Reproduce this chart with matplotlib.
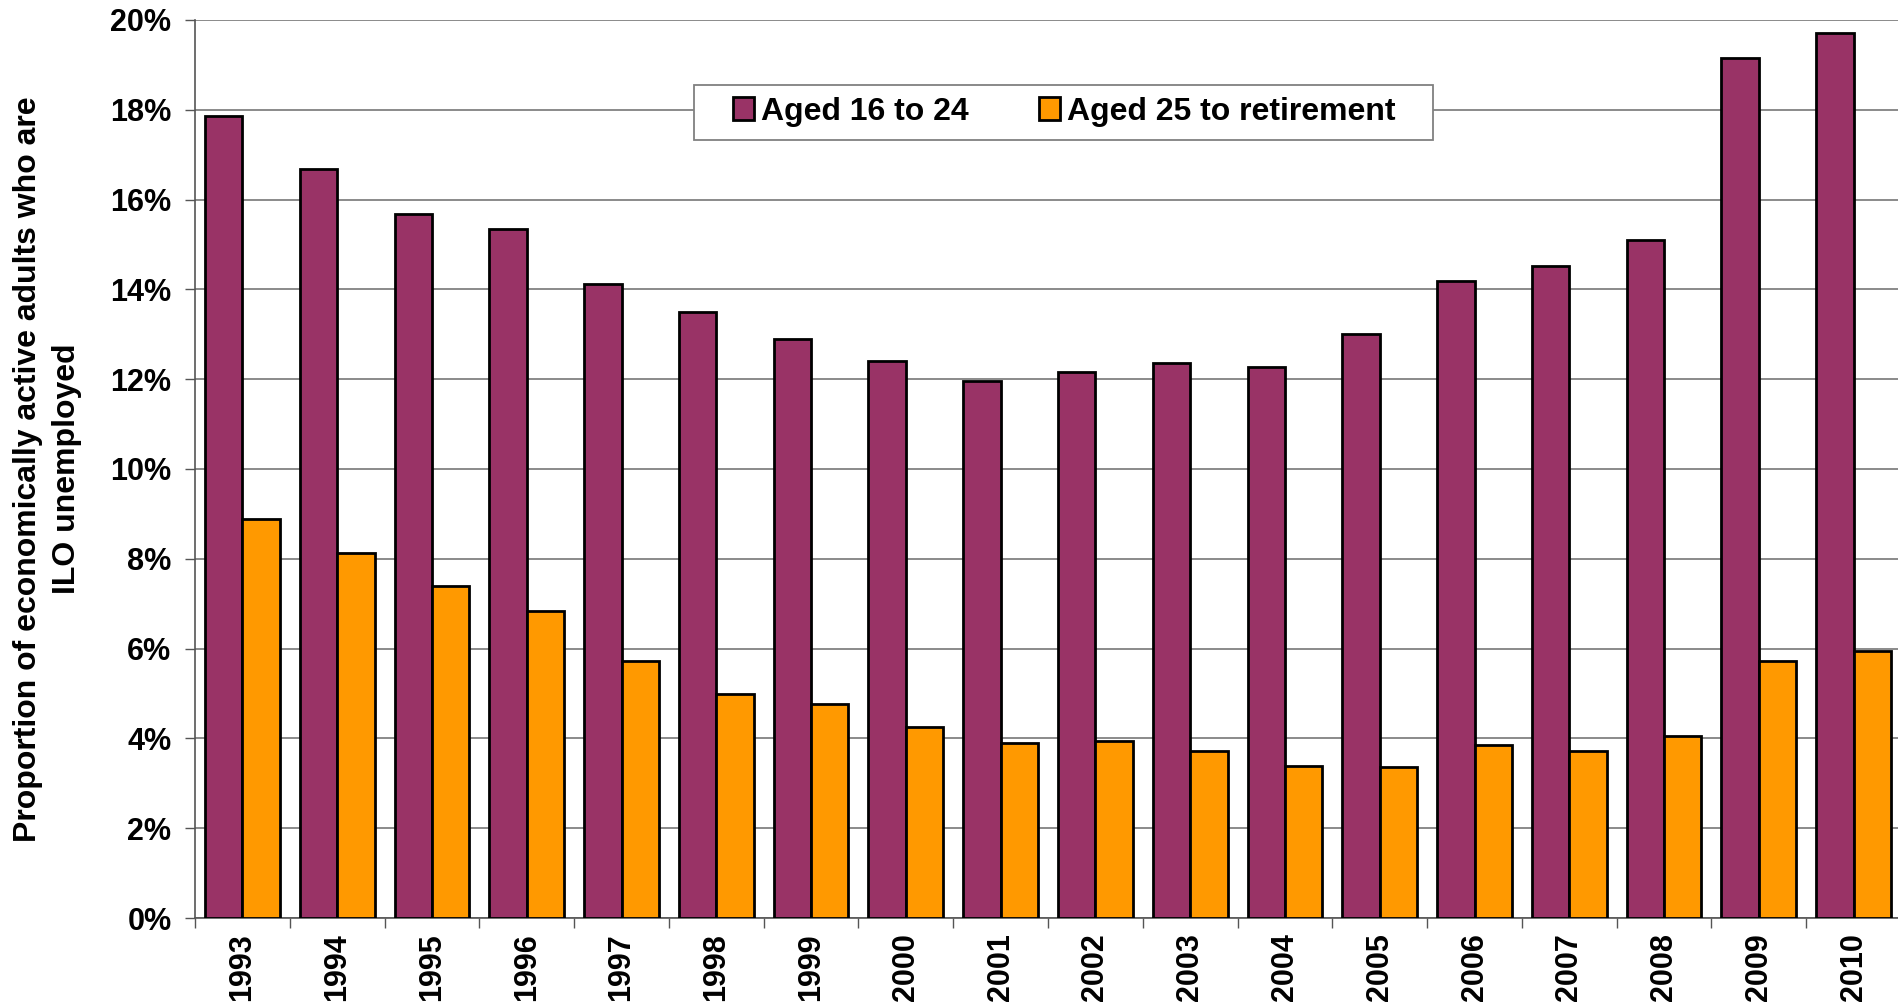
import numpy as np
import matplotlib
matplotlib.use('Agg')
import matplotlib.pyplot as plt
from matplotlib.patches import Rectangle
from matplotlib.ticker import FixedLocator, FuncFormatter

plt.rcParams['font.family'] = ['Liberation Sans', 'DejaVu Sans']
plt.rcParams['font.weight'] = 'bold'

# data (percent)
years = ['1993', '1994', '1995', '1996', '1997', '1998', '1999', '2000', '2001',
         '2002', '2003', '2004', '2005', '2006', '2007', '2008', '2009', '2010']
aged_16_24 = [17.86, 16.69, 15.67, 15.35, 14.11, 13.50, 12.89, 12.41, 11.97,
              12.16, 12.37, 12.27, 13.00, 14.19, 14.53, 15.09, 19.15, 19.70]
aged_25_ret = [8.89, 8.14, 7.39, 6.83, 5.72, 4.98, 4.77, 4.25, 3.89,
               3.95, 3.71, 3.38, 3.36, 3.86, 3.73, 4.05, 5.72, 5.95]
yticks = [0, 2, 4, 6, 8, 10, 12, 14, 16, 18, 20]

purple = '#993366'
orange = '#FF9900'

W, H = 1898, 1007
fig = plt.figure(figsize=(W / 100, H / 100), dpi=100)
# plot area runs a little past the right edge, as in the reference
ax = fig.add_axes([195 / W, 1 - 918 / H, 1706 / W, 898 / H])

x = np.arange(len(years))
w = 0.395
ax.bar(x - w / 2, aged_16_24, w, color=purple, edgecolor='black', linewidth=2,
       label='Aged 16 to 24', zorder=3)
ax.bar(x + w / 2, aged_25_ret, w, color=orange, edgecolor='black', linewidth=2,
       label='Aged 25 to retirement', zorder=3)

ax.set_xlim(-0.5, len(years) - 0.5)
ax.set_ylim(0, 20)

ax.set_yticks(yticks)
ax.yaxis.set_major_formatter(FuncFormatter(lambda v, p: '%d%%' % v))
ax.grid(axis='y', color='#777777', linewidth=1.2, zorder=0)
ax.tick_params(axis='y', length=7, width=1, color='#555555', pad=10, labelsize=22)

# category boundary ticks, labels at centres
ax.xaxis.set_major_locator(FixedLocator(np.arange(-0.5, len(years), 1.0)))
ax.xaxis.set_major_formatter(FuncFormatter(lambda v, p: ''))
ax.xaxis.set_minor_locator(FixedLocator(x))
ax.set_xticklabels(years, minor=True, rotation=90, fontsize=22, fontweight='bold')
ax.tick_params(axis='x', which='major', length=7, width=1, color='#555555')
ax.tick_params(axis='x', which='minor', length=0, pad=11)

for s in ['top', 'right']:
    ax.spines[s].set_visible(False)
ax.spines['left'].set_color('#555555')
ax.spines['bottom'].set_color('#555555')
ax.spines['left'].set_linewidth(1.2)
ax.spines['bottom'].set_linewidth(1.2)

ax.set_ylabel('Proportion of economically active adults who are\nILO unemployed',
              fontsize=23, fontweight='bold', linespacing=1.4)
ax.yaxis.set_label_coords(-0.066, 0.5)

# legend box drawn separately so its padding can match
box = Rectangle((694 / W, 1 - 140 / H), 739 / W, 55 / H, transform=fig.transFigure,
                facecolor='white', edgecolor='#808080', linewidth=1.3, zorder=4,
                clip_on=False)
ax.add_patch(box)
leg = ax.legend(loc='center', bbox_to_anchor=(1064 / W, 1 - 112 / H),
                bbox_transform=fig.transFigure, ncol=2, fontsize=23,
                frameon=False, handlelength=0.68, handleheight=0.72,
                handletextpad=0.2, columnspacing=2.2, borderpad=0.2)
leg.set_zorder(5)
for t in leg.get_texts():
    t.set_fontweight('bold')

fig.savefig('out.png', dpi=100)
